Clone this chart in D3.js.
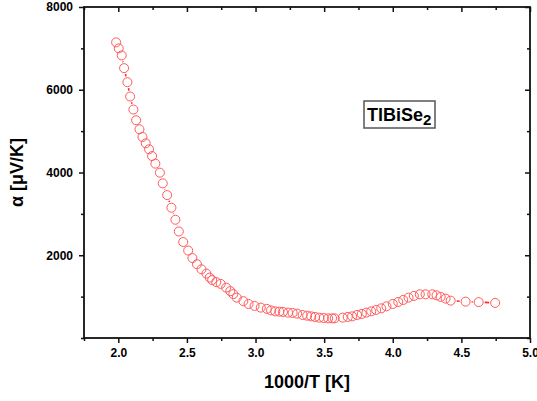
<!DOCTYPE html>
<html>
<head>
<meta charset="utf-8">
<script src="https://cdn.jsdelivr.net/npm/d3@7"></script>
<style>
  body { margin: 0; background: #fff; }
  text { font-family: 'Liberation Sans', Arial, sans-serif; font-weight: bold; fill: #000; }
</style>
</head>
<body>
<div id="chart"></div>
<script>
// 1000/T values (1/K)
const invT = [
  1.984, 2.003, 2.025, 2.042, 2.066, 2.086, 2.110, 2.130, 2.154, 2.176,
  2.200, 2.224, 2.246, 2.270, 2.303, 2.324, 2.356, 2.387, 2.416, 2.441,
  2.473, 2.509, 2.540, 2.573, 2.606, 2.642, 2.666, 2.684, 2.714, 2.746,
  2.786, 2.816, 2.838, 2.863, 2.911, 2.949, 2.993, 3.038, 3.082, 3.113,
  3.144, 3.173, 3.200, 3.237, 3.270, 3.303, 3.343, 3.376, 3.405, 3.434,
  3.465, 3.497, 3.529, 3.558, 3.577, 3.635, 3.672, 3.704, 3.740, 3.774,
  3.808, 3.843, 3.879, 3.916, 3.954, 4.000, 4.040, 4.076, 4.115, 4.154,
  4.197, 4.239, 4.288, 4.319, 4.349, 4.385, 4.422, 4.531, 4.626, 4.746
];
// thermopower alpha (uV/K)
const alpha = [
  7145, 7000, 6830, 6522, 6183, 5837, 5522, 5263, 5045, 4859,
  4706, 4561, 4398, 4214, 3996, 3737, 3454, 3149, 2858, 2575,
  2320, 2114, 1933, 1783, 1661, 1557, 1460, 1400, 1351, 1308,
  1218, 1133, 1061, 976, 891, 823, 775, 734, 705, 668,
  644, 637, 630, 613, 606, 589, 557, 540, 523, 509,
  492, 484, 475, 475, 475, 492, 509, 523, 557, 581,
  613, 644, 678, 717, 765, 823, 872, 920, 976, 1017,
  1056, 1056, 1056, 1032, 993, 952, 903, 879, 867, 848
];
const xMajor = [2.0, 2.5, 3.0, 3.5, 4.0, 4.5, 5.0];
const xMinor = [1.75, 2.25, 2.75, 3.25, 3.75, 4.25, 4.75];
const yMajor = [2000, 4000, 6000, 8000];
const yMinor = [0, 1000, 3000, 5000, 7000];

const width = 537;
const height = 401;
const margin = { top: 7, right: 7, bottom: 63, left: 84 };
const pointColor = '#ff5a5a';
const lineColor = '#ff2a2a';
const r = 4.5;

const svg = d3.select('#chart').append('svg')
  .attr('width', width)
  .attr('height', height);

const x = d3.scaleLinear().domain([1.75, 5.0]).range([margin.left, width - margin.right]);
const y = d3.scaleLinear().domain([0, 8000]).range([height - margin.bottom, margin.top]);

const data = invT.map((d, i) => ({ x: d, y: alpha[i] }));

// axes: bottom/left ticks outward, top/right inward
svg.append('g')
  .attr('transform', `translate(0,${y(0)})`)
  .call(d3.axisBottom(x).tickValues(xMajor).tickSize(5).tickPadding(5).tickFormat(d3.format('.1f')));
svg.append('g')
  .attr('transform', `translate(0,${y(0)})`)
  .call(d3.axisBottom(x).tickValues(xMinor).tickSize(3).tickFormat(''));

svg.append('g')
  .attr('transform', `translate(${x(1.75)},0)`)
  .call(d3.axisLeft(y).tickValues(yMajor).tickSize(5).tickPadding(6).tickFormat(d3.format('d')));
svg.append('g')
  .attr('transform', `translate(${x(1.75)},0)`)
  .call(d3.axisLeft(y).tickValues(yMinor).tickSize(3).tickFormat(''));

svg.append('g')
  .attr('transform', `translate(0,${y(8000)})`)
  .call(d3.axisBottom(x).tickValues(xMajor).tickSize(5).tickFormat(''));
svg.append('g')
  .attr('transform', `translate(0,${y(8000)})`)
  .call(d3.axisBottom(x).tickValues(xMinor).tickSize(3).tickFormat(''));
svg.append('g')
  .attr('transform', `translate(${x(5.0)},0)`)
  .call(d3.axisLeft(y).tickValues(yMajor).tickSize(5).tickFormat(''));
svg.append('g')
  .attr('transform', `translate(${x(5.0)},0)`)
  .call(d3.axisLeft(y).tickValues(yMinor).tickSize(3).tickFormat(''));

svg.selectAll('.domain').remove();
svg.selectAll('.tick line').attr('stroke', '#111').attr('stroke-width', 1.5);
svg.selectAll('.tick text').style('font-size', '12px').style('font-family', "'Liberation Sans', Arial, sans-serif").style('font-weight', 'bold');

// plot frame
svg.append('rect')
  .attr('x', x(1.75))
  .attr('y', y(8000))
  .attr('width', x(5.0) - x(1.75))
  .attr('height', y(0) - y(8000))
  .attr('fill', 'none')
  .attr('stroke', '#111')
  .attr('stroke-width', 1.8);

// axis titles
svg.append('text')
  .attr('x', (x(1.75) + x(5.0)) / 2)
  .attr('y', 388)
  .attr('text-anchor', 'middle')
  .style('font-size', '18px')
  .text('1000/T [K]');

svg.append('text')
  .attr('transform', `translate(23,${(y(0) + y(8000)) / 2}) rotate(-90)`)
  .attr('text-anchor', 'middle')
  .style('font-size', '18px')
  .text('α [μV/K]');

// connecting line with gaps around symbols
const segs = [];
for (let i = 0; i < data.length - 1; i++) {
  const x1 = x(data[i].x), y1 = y(data[i].y);
  const x2 = x(data[i + 1].x), y2 = y(data[i + 1].y);
  const dist = Math.hypot(x2 - x1, y2 - y1);
  const gap = r + 1.5;
  if (dist > 2 * gap) {
    const ux = (x2 - x1) / dist, uy = (y2 - y1) / dist;
    segs.push([x1 + ux * gap, y1 + uy * gap, x2 - ux * gap, y2 - uy * gap]);
  }
}
svg.append('g')
  .selectAll('line')
  .data(segs)
  .enter().append('line')
  .attr('x1', d => d[0]).attr('y1', d => d[1])
  .attr('x2', d => d[2]).attr('y2', d => d[3])
  .attr('stroke', lineColor)
  .attr('stroke-width', 1.6);

svg.append('g')
  .selectAll('circle')
  .data(data)
  .enter().append('circle')
  .attr('cx', d => x(d.x))
  .attr('cy', d => y(d.y))
  .attr('r', r)
  .attr('fill', 'none')
  .attr('stroke', pointColor)
  .attr('stroke-width', 1);

// compound label box
svg.append('rect')
  .attr('x', 364)
  .attr('y', 101)
  .attr('width', 71)
  .attr('height', 27)
  .attr('fill', 'none')
  .attr('stroke', '#555')
  .attr('stroke-width', 1.5);

const label = svg.append('text')
  .attr('x', 367)
  .attr('y', 121)
  .style('font-size', '18px');
label.append('tspan').text('TlBiSe');
label.append('tspan').attr('dy', 4).style('font-size', '15px').text('2');
</script>
</body>
</html>
